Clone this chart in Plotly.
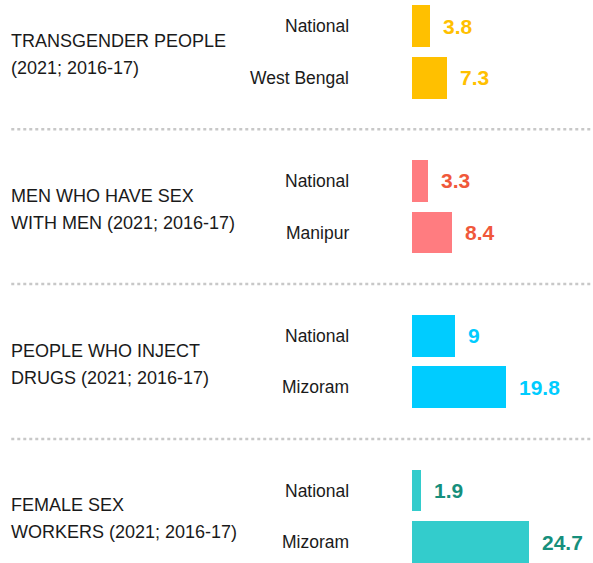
import plotly.graph_objects as go

groups = [["TRANSGENDER PEOPLE", "(2021; 2016-17)"],
          ["MEN WHO HAVE SEX", "WITH MEN (2021; 2016-17)"],
          ["PEOPLE WHO INJECT", "DRUGS (2021; 2016-17)"],
          ["FEMALE SEX", "WORKERS (2021; 2016-17)"]]
categories = [["National", "West Bengal"],
              ["National", "Manipur"],
              ["National", "Mizoram"],
              ["National", "Mizoram"]]
values = [[3.8, 7.3],
          [3.3, 8.4],
          [9, 19.8],
          [1.9, 24.7]]
bar_colors = ["#FFC000", "#FF7C80", "#00CCFF", "#33CCCC"]
text_colors = ["#FFC000", "#F0583A", "#00CCFF", "#168F7C"]

FONT = "Liberation Sans, Arial, sans-serif"

fig = go.Figure()
annotations = []
shapes = []
for g, (grp, cats, vals) in enumerate(zip(groups, categories, values)):
    ys = [g * 3 + j for j in range(len(vals))]
    fig.add_trace(go.Bar(
        x=vals, y=ys, orientation="h", width=0.81,
        marker=dict(color=bar_colors[g], line=dict(width=0)),
        hoverinfo="x", showlegend=False,
    ))
    for y, c, v in zip(ys, cats, vals):
        annotations.append(dict(x=0, y=y, xref="x", yref="y", text=c,
                                showarrow=False, xanchor="right", yanchor="middle",
                                xshift=-61, font=dict(family=FONT, size=17.5, color="#1a1a1a")))
        annotations.append(dict(x=v, y=y, xref="x", yref="y", text=f"<b>{v:g}</b>",
                                showarrow=False, xanchor="left", yanchor="middle",
                                xshift=11, font=dict(family=FONT, size=21, color=text_colors[g])))
    for li, line in enumerate(grp):
        annotations.append(dict(x=0.015, y=g * 3 + 0.5, xref="paper", yref="y", text=line,
                                showarrow=False, xanchor="left", yanchor="middle", align="left",
                                yshift=11 - 27 * li,
                                font=dict(family=FONT, size=18, color="#1a1a1a")))
    if g > 0:
        shapes.append(dict(type="line", xref="paper", yref="y", x0=0.019, x1=1,
                           y0=g * 3 - 1, y1=g * 3 - 1,
                           line=dict(color="#c8c8c8", width=2.5, dash="dot")))

fig.update_layout(
    width=593, height=563,
    margin=dict(l=0, r=0, t=0, b=0),
    paper_bgcolor="white", plot_bgcolor="white",
    xaxis=dict(range=[-87.1, 38.27], visible=False, fixedrange=True),
    yaxis=dict(range=[10.405, -0.506], visible=False, fixedrange=True),
    annotations=annotations, shapes=shapes,
    bargap=0,
)
fig.write_html("out.html")
